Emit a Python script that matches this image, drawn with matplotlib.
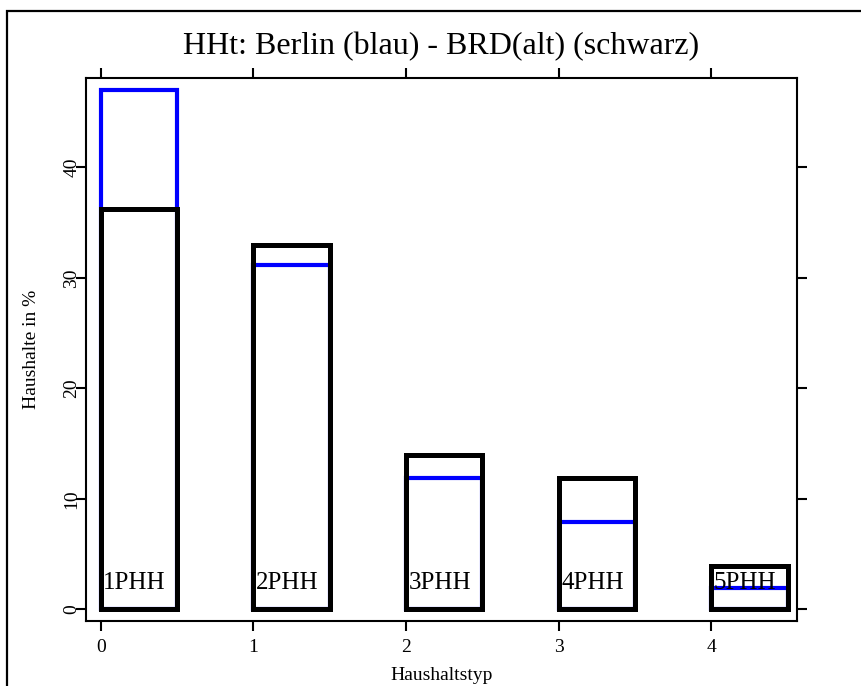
import numpy as np
import matplotlib
matplotlib.use("Agg")
import matplotlib.pyplot as plt
from matplotlib.patches import Rectangle

plt.rcParams['font.family'] = ['Liberation Serif', 'DejaVu Serif']

# Haushaltstypen und Anteile in %
typen = ['1PHH', '2PHH', '3PHH', '4PHH', '5PHH']
berlin = [47.0, 31.2, 11.9, 7.9, 1.9]   # blau
brd_alt = [36.2, 33.0, 14.0, 11.9, 3.9]  # schwarz
x_pos = np.arange(len(typen))

fig = plt.figure(figsize=(8.62, 6.86), dpi=100)
ax = fig.add_axes([0.0998, 0.0948, 0.8248, 0.7915])

# äußerer Rahmen
fig.patches.append(Rectangle((7.5 / 862, -0.1), 1.2, 1.1 - 10.5 / 686,
                             transform=fig.transFigure, fill=False,
                             edgecolor='black', linewidth=1.6))

ax.bar(x_pos, berlin, width=0.5, align='edge', fill=False,
       edgecolor='blue', linewidth=3.0)
ax.bar(x_pos, brd_alt, width=0.5, align='edge', fill=False,
       edgecolor='black', linewidth=3.6)

for xi, t in zip(x_pos, typen):
    ax.text(xi + 0.015, 2.4, t, fontsize=18, ha='left', va='center')

ax.set_xlim(-0.096, 4.56)
ax.set_ylim(-1.05, 48.1)

ax.set_xticks(x_pos)
ax.set_yticks([0, 10, 20, 30, 40])
ax.tick_params(axis='both', direction='out', length=7, width=1.5,
               labelsize=14, top=True, right=True)
ax.tick_params(axis='x', pad=6)
ax.tick_params(axis='y', pad=-3)
for lbl in ax.get_yticklabels():
    lbl.set_rotation(90)
    lbl.set_va('center')
for sp in ax.spines.values():
    sp.set_linewidth(1.5)

ax.set_xlabel('Haushaltstyp', fontsize=14, labelpad=8)
ax.set_ylabel('Haushalte in %', fontsize=14, labelpad=17)
fig.text(441 / 862, 1 - 47 / 686, 'HHt: Berlin (blau) - BRD(alt) (schwarz)',
         fontsize=23, ha='center', va='center')

fig.savefig('out.png', dpi=100)
